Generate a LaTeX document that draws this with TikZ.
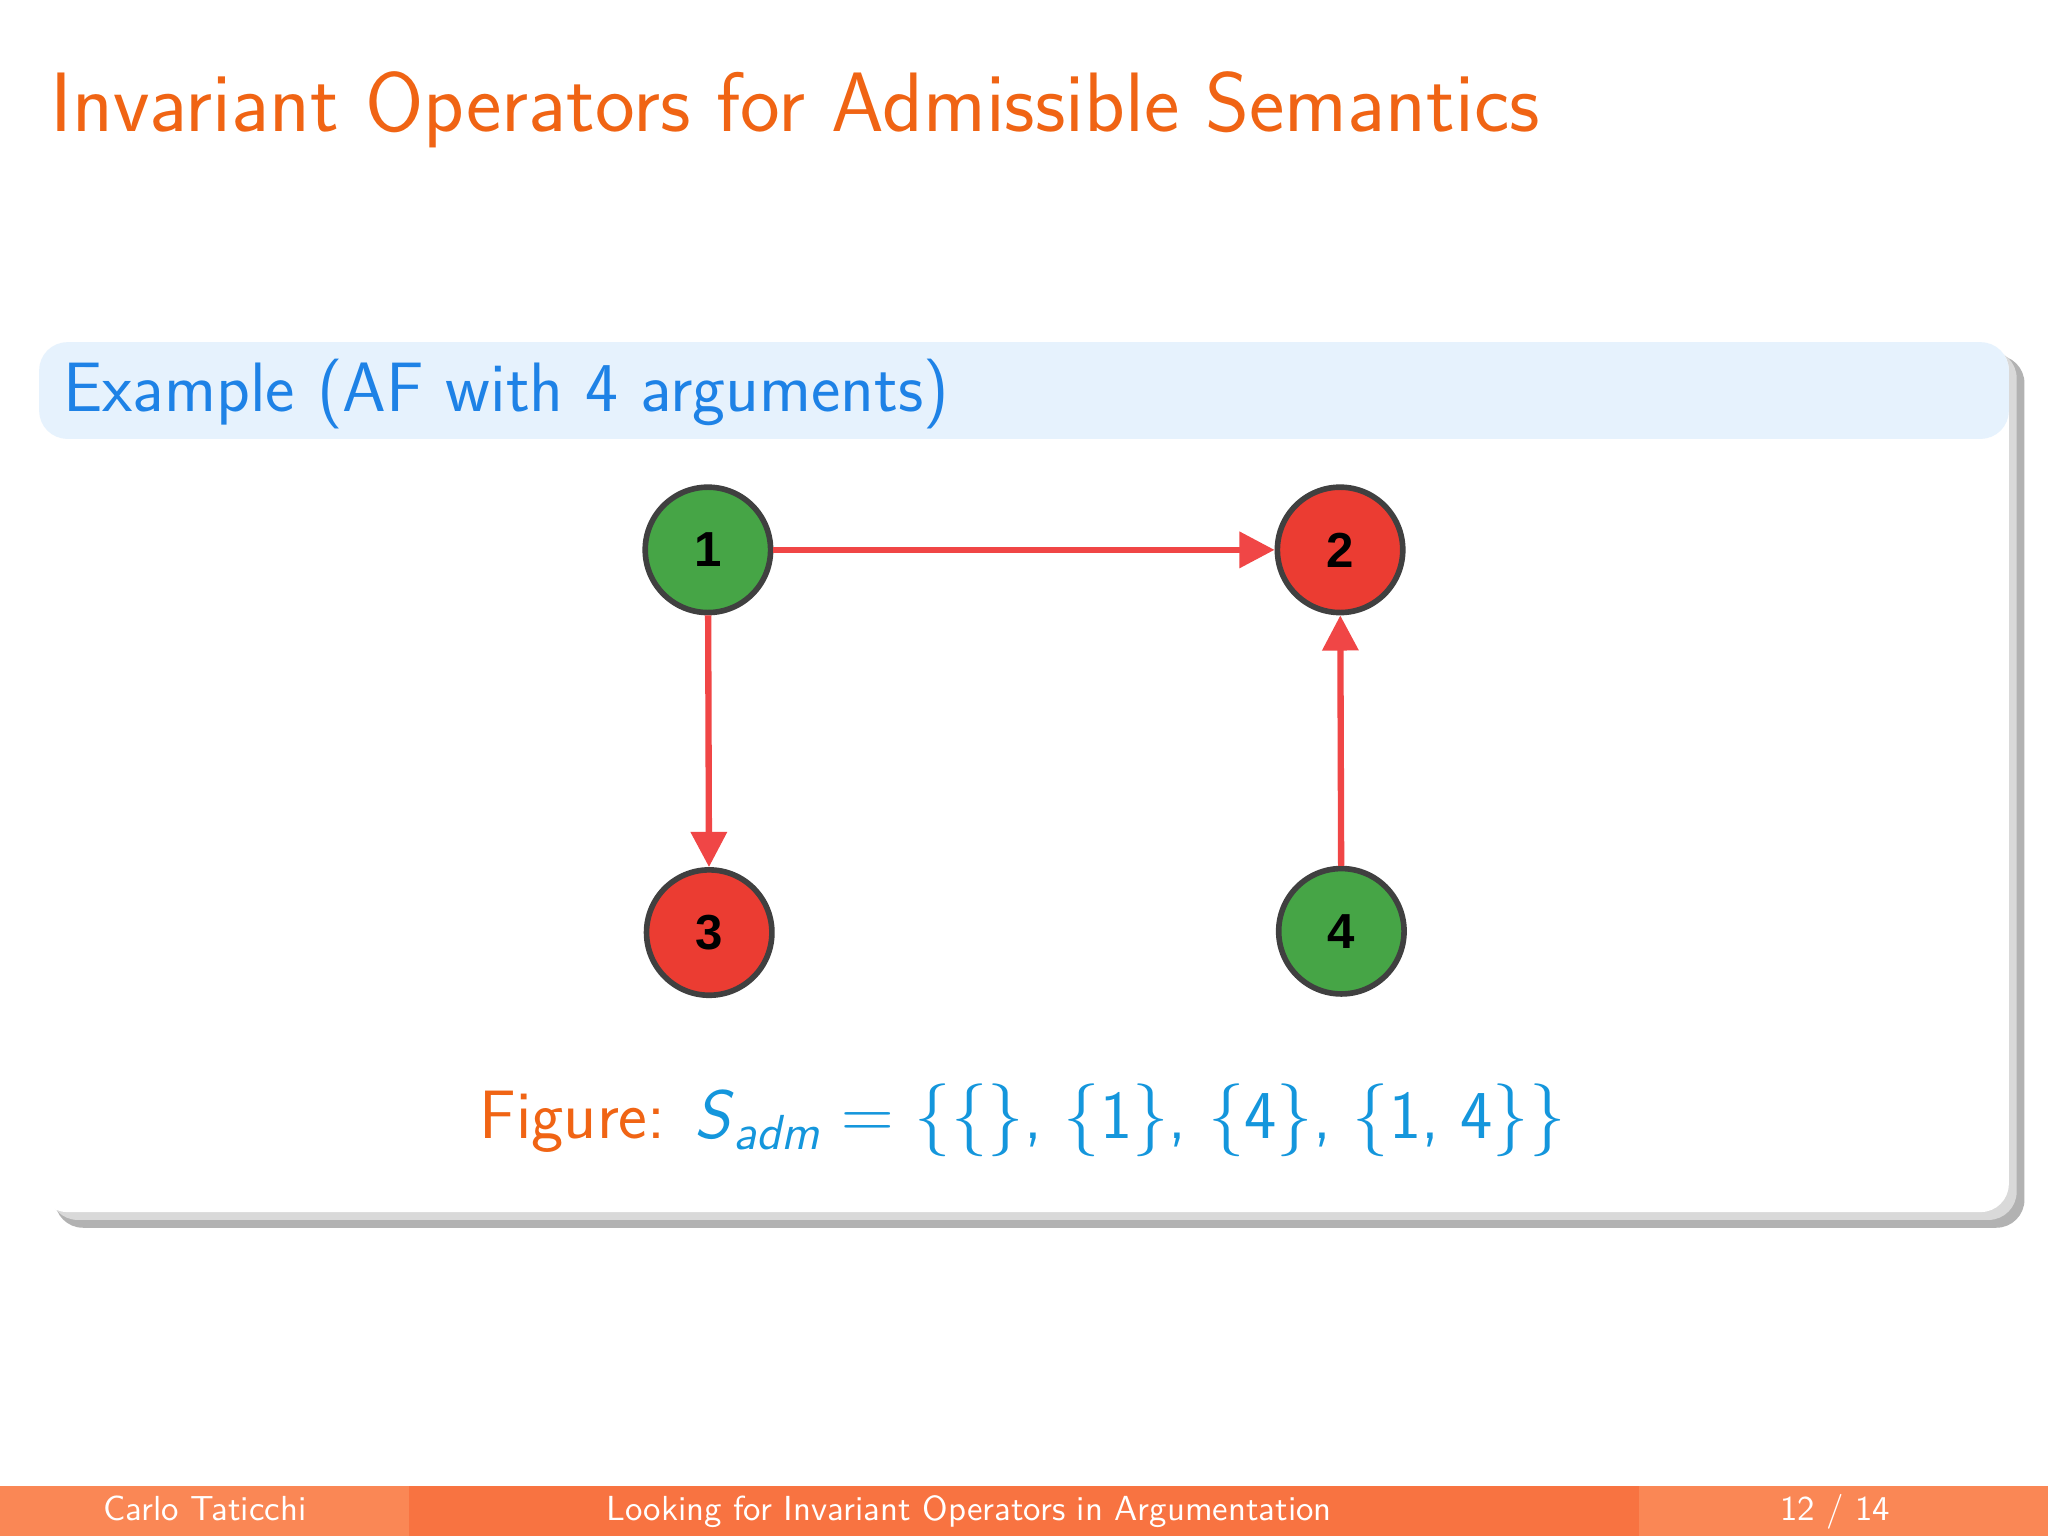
\documentclass[tikz,border=0pt]{standalone}
\usepackage{fontspec}
\usepackage{amsmath}
\usetikzlibrary{arrows.meta,shadows}
\newfontfamily\arialb{Liberation Sans}
\definecolor{ttl}{RGB}{240,100,20}
\definecolor{hdr}{RGB}{230,242,253}
\definecolor{hdtxt}{RGB}{30,130,230}
\definecolor{ngreen}{RGB}{70,165,70}
\definecolor{nred}{RGB}{235,60,50}
\definecolor{arr}{RGB}{240,70,70}
\definecolor{mth}{RGB}{20,150,220}
\definecolor{foot1}{RGB}{250,135,85}
\definecolor{foot2}{RGB}{248,115,65}
\begin{document}
\begin{tikzpicture}[x=0.013061cm,y=-0.013061cm,
  arg/.style={circle,draw=black!75,line width=1.6pt,minimum size=96*0.013061cm,inner sep=0pt,font=\arialb\bfseries\fontsize{14}{16}\selectfont},
  att/.style={draw=arr,line width=1.8pt,-{Triangle[length=10pt,width=10pt]}}]
\useasboundingbox (0,0) rectangle (1568,1176);
\fill[white] (0,0) rectangle (1568,1176);
\node[anchor=base west,text=ttl,font=\sffamily\fontsize{24}{28}\selectfont,inner sep=0pt] (title) at (38,101) {Invariant Operators for Admissible Semantics};
% block
\fill[black!30,rounded corners=8] (42,272) rectangle (1550,940);
\fill[black!15,rounded corners=8] (38,268) rectangle (1544,934);
\fill[white,rounded corners=8] (30,262) rectangle (1538,928);
\fill[hdr,rounded corners=8] (30,336) -- (30,262) -- (1538,262) -- (1538,336) -- cycle;
\node[anchor=base west,text=hdtxt,font=\sffamily\fontsize{19.9}{23}\selectfont,inner sep=0pt] (hd) at (48,315) {Example (AF with 4 arguments)};
% graph
\node[arg,fill=ngreen] (n1) at (542,421) {1};
\node[arg,fill=nred] (n2) at (1026,421) {2};
\node[arg,fill=nred] (n3) at (543,714) {3};
\node[arg,fill=ngreen] (n4) at (1027,713) {4};
\draw[att] (n1) -- (n2);
\draw[att] (n1) -- (n3);
\draw[att] (n4) -- (n2);
\node[anchor=base,font=\sffamily\fontsize{19.5}{23}\selectfont,inner sep=0pt] (cap) at (783,872) {\textcolor{ttl}{Figure:} \textcolor{mth}{\textit{S}\raisebox{-0.35ex}{\fontsize{14}{16}\selectfont\textit{adm}} $=$ $\{\{\}$, $\{$1$\}$, $\{$4$\}$, $\{$1, 4$\}\}$}};
% footer
\fill[foot1] (0,1138) rectangle (313,1176);
\fill[foot2] (313,1138) rectangle (1255,1176);
\fill[foot1] (1255,1138) rectangle (1568,1176);
\node[anchor=base,text=white,font=\sffamily\fontsize{9.9}{11}\selectfont,inner sep=0pt] (fa) at (157,1164) {Carlo Taticchi};
\node[anchor=base,text=white,font=\sffamily\fontsize{9.9}{11}\selectfont,inner sep=0pt] (fb) at (742,1164) {Looking for Invariant Operators in Argumentation};
\node[anchor=base,text=white,font=\sffamily\fontsize{9.9}{11}\selectfont,inner sep=0pt] (fc) at (1405,1164) {12 / 14};
\end{tikzpicture}
\end{document}
